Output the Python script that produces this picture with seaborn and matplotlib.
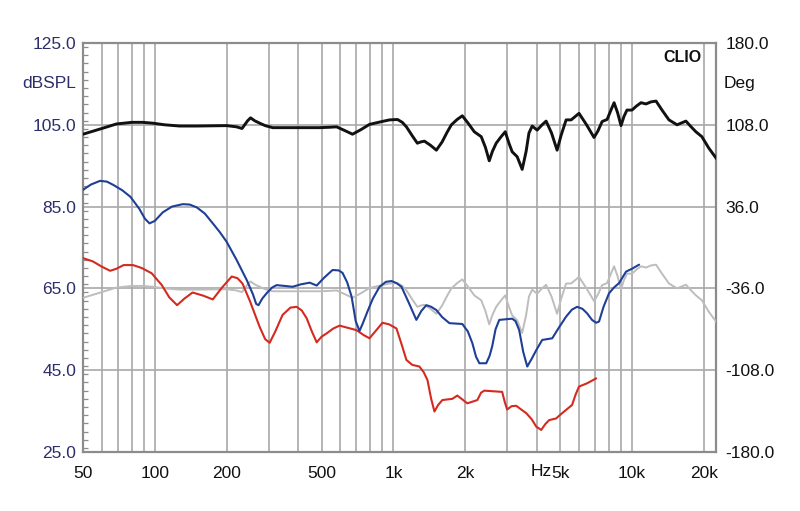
import matplotlib
matplotlib.use("Agg")
import matplotlib.pyplot as plt
import seaborn as sns
import pandas as pd
from matplotlib.ticker import FixedLocator, FixedFormatter, NullFormatter, MultipleLocator

# ---------------- data ----------------
freq_black = [50, 60, 69, 80, 89, 98, 110, 127, 150, 200, 220, 232, 245, 252, 262, 275, 290, 312,
              400, 491, 540, 578, 625, 674, 730, 794, 880, 963, 1040, 1090, 1134, 1200, 1260, 1300,
              1349, 1430, 1514, 1600, 1680, 1750, 1850, 1945, 2050, 2183, 2334, 2430, 2522, 2600,
              2697, 2820, 2943, 3050, 3147, 3302, 3466, 3600, 3700, 3818, 4004, 4200, 4366, 4600,
              4854, 5050, 5296, 5559, 5998, 6450, 6934, 7200, 7496, 7866, 8150, 8413, 8700, 8997,
              9250, 9526, 10000, 10450, 10912, 11455, 12000, 12612, 13400, 14290, 15450, 16830,
              17700, 18530, 19630, 20990, 22690]
spl_black = [102.7, 104.1, 105.2, 105.6, 105.6, 105.4, 105.0, 104.7, 104.7, 104.8, 104.5, 104.1,
             106.0, 106.7, 106.0, 105.4, 104.8, 104.3, 104.3, 104.3, 104.4, 104.5, 103.6, 102.7,
             103.8, 105.1, 105.7, 106.2, 106.3, 105.6, 104.5, 102.3, 100.5, 100.8, 101.0, 100.0,
             98.8, 100.8, 103.2, 105.0, 106.3, 107.2, 105.5, 103.3, 102.1, 99.5, 96.2, 98.5,
             100.5, 102.0, 103.3, 100.5, 98.4, 97.2, 94.1, 98.5, 103.0, 104.7, 103.7, 105.0,
             105.9, 103.0, 98.8, 102.5, 106.2, 106.2, 107.8, 105.0, 101.9, 103.5, 105.8, 106.3,
             108.5, 110.4, 108.0, 104.8, 107.0, 108.6, 108.6, 109.6, 110.4, 110.1, 110.6, 110.8,
             108.5, 106.2, 105.0, 105.9, 104.5, 103.3, 102.1, 99.3, 96.6]

freq_gray = list(freq_black)
spl_gray = [62.7, 64.1, 65.2, 65.6, 65.6, 65.4, 65.0, 64.7, 64.7, 64.8, 64.5, 64.1,
            66.0, 66.7, 66.0, 65.4, 64.8, 64.3, 64.3, 64.3, 64.4, 64.5, 63.6, 62.7,
            63.8, 65.1, 65.7, 66.2, 66.3, 65.6, 64.5, 62.3, 60.5, 60.8, 61.0, 60.0,
            58.8, 60.8, 63.2, 65.0, 66.3, 67.2, 65.5, 63.3, 62.1, 59.5, 56.2, 58.5,
            60.5, 62.0, 63.3, 60.5, 58.4, 57.2, 54.1, 58.5, 63.0, 64.7, 63.7, 65.0,
            65.9, 63.0, 58.8, 62.5, 66.2, 66.2, 67.8, 65.0, 61.9, 63.5, 65.8, 66.3,
            68.5, 70.4, 68.0, 64.8, 67.0, 68.6, 68.6, 69.6, 70.4, 70.1, 70.6, 70.8,
            68.5, 66.2, 65.0, 65.9, 64.5, 63.3, 62.1, 59.3, 56.6]

freq_blue = [50, 54, 59, 63, 67, 73, 79, 86, 91, 95, 100, 108, 118, 131, 140, 150, 162, 175, 187,
             200, 220, 243, 258, 266, 272, 282, 294, 310, 324, 350, 378, 410, 446, 477, 510, 556,
             590, 612, 640, 668, 695, 721, 745, 778, 820, 875, 930, 982, 1030, 1081, 1160, 1248,
             1310, 1374, 1440, 1514, 1600, 1717, 1945, 2050, 2143, 2220, 2292, 2450, 2530, 2594,
             2680, 2778, 3147, 3250, 3367, 3500, 3639, 3800, 3970, 4205, 4632, 4950, 5296, 5600,
             5888, 6200, 6485, 6800, 7078, 7278, 7600, 8013, 8400, 8830, 9442, 10000, 10710]
spl_blue = [89.1, 90.4, 91.3, 91.1, 90.3, 89.0, 87.4, 84.5, 82.0, 80.9, 81.5, 83.6, 85.0, 85.6,
            85.5, 84.8, 83.3, 80.9, 78.8, 76.4, 72.0, 67.0, 63.5, 61.2, 60.9, 62.5, 63.8, 65.2,
            65.8, 65.6, 65.4, 66.0, 66.4, 65.7, 67.5, 69.5, 69.4, 68.8, 66.5, 63.0, 57.0, 54.6,
            56.5, 59.3, 62.5, 65.4, 66.6, 66.8, 66.3, 65.4, 61.5, 57.3, 59.5, 60.9, 60.5, 59.7,
            58.0, 56.5, 56.3, 54.5, 51.6, 48.3, 46.7, 46.7, 48.5, 50.8, 55.0, 57.3, 57.6, 57.0,
            54.8, 49.5, 45.9, 47.8, 49.9, 52.4, 52.8, 55.5, 58.1, 59.8, 60.5, 60.0, 58.9, 57.3,
            56.6, 56.9, 60.5, 63.8, 65.2, 66.3, 69.1, 69.8, 70.8]

freq_red = [50, 55, 60, 65, 69, 74, 81, 88, 97, 107, 115, 124, 133, 144, 160, 175, 190, 210, 222,
            233, 250, 275, 290, 303, 320, 343, 370, 393, 413, 433, 455, 477, 500, 525, 560, 595,
            650, 700, 750, 794, 840, 900, 960, 1030, 1080, 1134, 1200, 1285, 1340, 1389, 1440,
            1486, 1540, 1604, 1766, 1853, 1950, 2041, 2249, 2330, 2404, 2857, 2930, 2998, 3130,
            3272, 3450, 3604, 3800, 3970, 4165, 4330, 4496, 4808, 5050, 5296, 5610, 5800, 5998,
            6485, 7078]
spl_red = [72.4, 71.6, 70.3, 69.3, 69.8, 70.7, 70.7, 70.0, 68.7, 65.8, 62.8, 60.9, 62.5, 64.0,
           63.2, 62.3, 65.0, 67.9, 67.5, 66.2, 62.0, 55.6, 52.6, 51.7, 54.5, 58.5, 60.3, 60.5,
           59.6, 57.7, 54.5, 51.8, 53.2, 54.0, 55.2, 55.9, 55.3, 54.8, 53.6, 52.8, 54.5, 56.6,
           56.2, 55.2, 51.5, 47.5, 46.3, 45.9, 44.5, 42.6, 38.0, 34.9, 36.5, 37.7, 38.0, 38.8,
           37.8, 36.9, 37.7, 39.5, 40.0, 39.7, 37.2, 35.4, 36.2, 36.3, 35.3, 34.5, 33.0, 31.2,
           30.4, 31.8, 32.8, 33.2, 34.3, 35.3, 36.5, 39.0, 41.0, 41.8, 43.0]

x_ticks = [50, 100, 200, 500, 1000, 2000, 5000, 10000, 20000]
x_labels = ["50", "100", "200", "500", "1k", "2k", "5k", "10k", "20k"]
x_grid = [60, 70, 80, 90, 100, 200, 300, 400, 500, 600, 700, 800, 900, 1000, 2000, 3000, 4000,
          5000, 6000, 7000, 8000, 9000, 10000, 20000]
y_ticks = [25, 45, 65, 85, 105, 125]
y_labels = ["25.0", "45.0", "65.0", "85.0", "105.0", "125.0"]
deg_ticks = [-180, -108, -36, 36, 108, 180]
deg_labels = ["-180.0", "-108.0", "-36.0", "36.0", "108.0", "180.0"]

# ---------------- style ----------------
sns.set_style("white")
plt.rcParams["font.family"] = ["Liberation Sans", "DejaVu Sans"]

NAVY = "#2d2d6b"
GRID = "#a8a8a8"
SPINE = "#8c8c8c"

fig = plt.figure(figsize=(8, 5.11), dpi=100)
ax = fig.add_axes([83 / 800, 59 / 511, 633 / 800, 409 / 511])

def draw(fx, fy, color, lw, z):
    df = pd.DataFrame({"f": fx, "v": fy})
    sns.lineplot(data=df, x="f", y="v", ax=ax, color=color, linewidth=lw, sort=False,
                 zorder=z, solid_joinstyle="round", solid_capstyle="round")

draw(freq_gray, spl_gray, "#bdbdbd", 1.4, 3)
draw(freq_red, spl_red, "#d42a20", 1.5, 4)
draw(freq_blue, spl_blue, "#1f3f96", 1.5, 5)
draw(freq_black, spl_black, "#111111", 2.1, 6)

ax.set_xscale("log")
ax.set_xlim(50, 22500)
ax.set_ylim(25, 125)
ax.set_xlabel("")
ax.set_ylabel("")

ax.xaxis.set_major_locator(FixedLocator(x_ticks))
ax.xaxis.set_major_formatter(FixedFormatter(x_labels))
ax.xaxis.set_minor_locator(FixedLocator(x_grid))
ax.xaxis.set_minor_formatter(NullFormatter())
ax.tick_params(axis="x", which="both", length=0, pad=10, labelsize=12.5, labelcolor="#111111")

ax.yaxis.set_major_locator(FixedLocator(y_ticks))
ax.yaxis.set_major_formatter(FixedFormatter(y_labels))
ax.yaxis.set_minor_locator(MultipleLocator(2))
ax.tick_params(axis="y", which="major", length=0, pad=5, labelsize=12.5, labelcolor=NAVY)
ax.tick_params(axis="y", which="minor", direction="in", left=True, right=True, length=3.5,
               width=0.9, color=SPINE)

ax.grid(True, axis="x", which="both", color=GRID, lw=1.2)
ax.grid(True, axis="y", which="major", color=GRID, lw=1.2)
ax.grid(False, axis="y", which="minor")

for s in ax.spines.values():
    s.set_color(SPINE)
    s.set_linewidth(1.6)
    s.set_visible(True)

ax2 = ax.twinx()
ax2.set_ylim(-180, 180)
ax2.yaxis.set_major_locator(FixedLocator(deg_ticks))
ax2.yaxis.set_major_formatter(FixedFormatter(deg_labels))
ax2.tick_params(axis="y", which="major", length=0, pad=7, labelsize=12.5, labelcolor="#111111")
ax2.grid(False)
for s in ax2.spines.values():
    s.set_visible(False)

fig.text(76 / 800, 1 - 83 / 511, "dBSPL", ha="right", va="center", fontsize=12.5, color=NAVY)
fig.text(724 / 800, 1 - 83 / 511, "Deg", ha="left", va="center", fontsize=12.5, color="#111111")
fig.text(701 / 800, 1 - 58 / 511, "CLIO", ha="right", va="center", fontsize=11.5,
         fontweight="bold", color="#111111")
fig.text(552 / 800, 1 - 472 / 511, "Hz", ha="right", va="center", fontsize=12.5, color="#111111")

fig.savefig("out.png", dpi=100)
